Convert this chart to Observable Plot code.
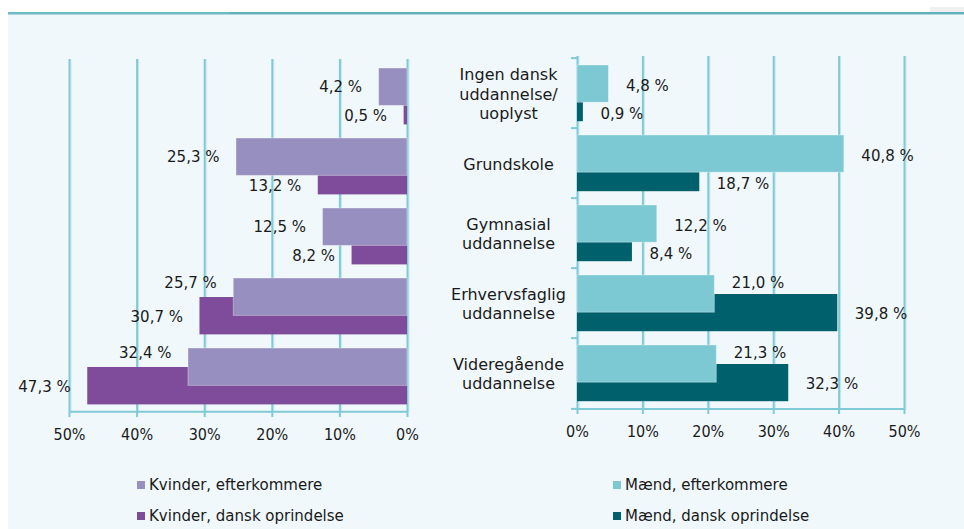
<!DOCTYPE html>
<html>
<head>
<meta charset="utf-8">
<script src="https://cdn.jsdelivr.net/npm/d3@7"></script>
<script src="https://cdn.jsdelivr.net/npm/@observablehq/plot@0.6"></script>
<style>
  html, body { margin: 0; padding: 0; background: #ffffff; }
  #wrap { position: relative; width: 964px; height: 529px; overflow: hidden; font-family: "DejaVu Sans", sans-serif; color: #1a1a1a; }
  #panel { position: absolute; left: 8px; top: 15px; right: 0; bottom: 0; background: #f0f8fb; }
  #lineL { position: absolute; left: 8px; top: 12px; width: 221px; height: 2px; background: #6bbcc6; }
  #lineR { position: absolute; left: 229px; top: 12px; right: 0; height: 2px; background: #5fb1bb; }
  #lineS { position: absolute; left: 8px; top: 14px; right: 0; height: 1px; background: #b2d6dc; }
  #corner { position: absolute; left: 930px; top: 7px; right: 0; height: 5px; background: #efefef; }
  .chart { position: absolute; top: 0; }
  #left { left: 0; }
  #right { left: 420px; }
  .chart svg [aria-label="x-axis tick label"] text { font-stretch: condensed; }
  .legend { position: absolute; font-size: 15px; line-height: 18px; white-space: nowrap; }
  .legend .sw { position: absolute; width: 8px; height: 8px; left: 0; top: 5px; }
  .legend .tx { position: absolute; left: 12px; top: 0; }
</style>
</head>
<body>
<div id="wrap">
  <div id="panel"></div>
  <div id="lineL"></div>
  <div id="lineR"></div>
  <div id="lineS"></div>
  <div id="corner"></div>
  <div class="chart" id="left"></div>
  <div class="chart" id="right"></div>
  <div id="legends"></div>
</div>
<script>
// ---- data ----
const categories = [
  "Ingen dansk\nuddannelse/\nuoplyst",
  "Grundskole",
  "Gymnasial\nuddannelse",
  "Erhvervsfaglig\nuddannelse",
  "Videregående\nuddannelse"
];
const womenDescendants = [4.2, 25.3, 12.5, 25.7, 32.4];
const womenDanish = [0.5, 13.2, 8.2, 30.7, 47.3];
const menDescendants = [4.8, 40.8, 12.2, 21.0, 21.3];
const menDanish = [0.9, 18.7, 8.4, 39.8, 32.3];
const xTicks = [0, 10, 20, 30, 40, 50];
const womenSeries = ["Kvinder, efterkommere", "Kvinder, dansk oprindelse"];
const menSeries = ["Mænd, efterkommere", "Mænd, dansk oprindelse"];

// ---- styling ----
const C = {
  womenLight: "#978fbf",
  womenDark: "#7f4b9b",
  menLight: "#7cc8d3",
  menDark: "#00616c",
  grid: "#7fcad5",
  gridShadow: "#c6e7ed",
  text: "#1a1a1a"
};
const fmt = v => v.toFixed(1).replace(".", ",") + " %";

const women = categories.map((c, i) => ({cat: c, desc: womenDescendants[i], dan: womenDanish[i]}));
const men = categories.map((c, i) => ({cat: c, desc: menDescendants[i], dan: menDanish[i]}));

function panel(o) {
  const {data, width, height, marginLeft, marginRight, marginTop, marginBottom, reverse, light, dark, tickSize, tickPadding, left, dys} = o;
  const bw = (height - marginTop - marginBottom) / categories.length;
  const lightTop = 7, barH = 38, darkTop = 26;
  const anchor = reverse ? "end" : "start";
  const dx = reverse ? -17 : 17;
  const descBigger = d => d.desc > d.dan;
  const marks = [
    Plot.ruleX(xTicks, {x: d => d, stroke: C.gridShadow, strokeWidth: 1, dx: 1.5}),
    Plot.ruleX(xTicks, {x: d => d, stroke: C.grid, strokeWidth: 2}),
    Plot.barX(data, {x: "dan", y: "cat", fill: dark, insetTop: darkTop, insetBottom: bw - darkTop - barH}),
    Plot.barX(data, {x: "desc", y: "cat", fill: light, stroke: "#ffffff", strokeOpacity: 0.35, strokeWidth: 1,
      insetTop: lightTop, insetBottom: bw - lightTop - barH}),
    // bottom axis line
    Plot.ruleY([categories[categories.length - 1]], {y: d => d, stroke: C.grid, strokeWidth: 2, dy: bw / 2}),
    Plot.axisX({ticks: xTicks, tickFormat: d => d + "%", tickSize, tickPadding, stroke: C.grid, strokeWidth: 2,
      fontSize: 16, fill: C.text, label: null, fontFamily: "'DejaVu Sans Condensed', 'DejaVu Sans', sans-serif"}),
    // value labels
    Plot.text(data, {filter: descBigger, x: "desc", y: "cat", text: d => fmt(d.desc), textAnchor: anchor, dx, dy: dys[0], fontSize: 15, fill: C.text}),
    Plot.text(data, {filter: d => !descBigger(d), x: "desc", y: "cat", text: d => fmt(d.desc), textAnchor: anchor, dx, dy: dys[1], fontSize: 15, fill: C.text}),
    Plot.text(data, {filter: descBigger, x: "dan", y: "cat", text: d => fmt(d.dan), textAnchor: anchor, dx, dy: dys[2], fontSize: 15, fill: C.text}),
    Plot.text(data, {filter: d => !descBigger(d), x: "dan", y: "cat", text: d => fmt(d.dan), textAnchor: anchor, dx, dy: dys[3], fontSize: 15, fill: C.text})
  ];
  if (left) {
    // category axis: boundary ticks and labels
    marks.push(
      Plot.ruleY(categories, {y: d => d, x1: () => 0, x2: () => 0, insetLeft: -6, dy: -bw / 2, stroke: C.grid, strokeWidth: 2}),
      Plot.ruleY([categories[categories.length - 1]], {y: d => d, x1: () => 0, x2: () => 0, insetLeft: -6, dy: bw / 2, stroke: C.grid, strokeWidth: 2}),
      Plot.text(categories, {y: d => d, x: () => 0, text: d => d, dx: -69, textAnchor: "middle", lineHeight: 1.2, fontSize: 16, fill: C.text})
    );
  }
  return Plot.plot({
    width, height, marginLeft, marginRight, marginTop, marginBottom,
    x: {domain: [0, 50], reverse, axis: null},
    y: {domain: categories, padding: 0, axis: null},
    style: {background: "transparent", fontFamily: "'DejaVu Sans', sans-serif", color: C.text, overflow: "visible"},
    marks
  });
}

document.getElementById("left").appendChild(panel({
  data: women, width: 420, height: 460,
  marginLeft: 69, marginRight: 13, marginTop: 59, marginBottom: 48,
  reverse: true, light: C.womenLight, dark: C.womenDark, tickSize: 5, tickPadding: 11, left: false,
  dys: [-9, -23, 20, 11]
}));
document.getElementById("right").appendChild(panel({
  data: men, width: 544, height: 460,
  marginLeft: 157, marginRight: 60, marginTop: 56, marginBottom: 50,
  reverse: false, light: C.menLight, dark: C.menDark, tickSize: 4, tickPadding: 11, left: true,
  dys: [-7, -20.5, 21, 11]
}));

// legends (HTML, below the SVGs)
const legends = document.getElementById("legends");
function addLegend(x, y, color, label) {
  const el = document.createElement("div");
  el.className = "legend";
  el.style.left = x + "px";
  el.style.top = y + "px";
  el.innerHTML = `<span class="sw" style="background:${color}"></span><span class="tx">${label}</span>`;
  legends.appendChild(el);
}
addLegend(137, 476, C.womenLight, womenSeries[0]);
addLegend(137, 507, C.womenDark, womenSeries[1]);
addLegend(613, 476, C.menLight, menSeries[0]);
addLegend(613, 507, C.menDark, menSeries[1]);
</script>
</body>
</html>
